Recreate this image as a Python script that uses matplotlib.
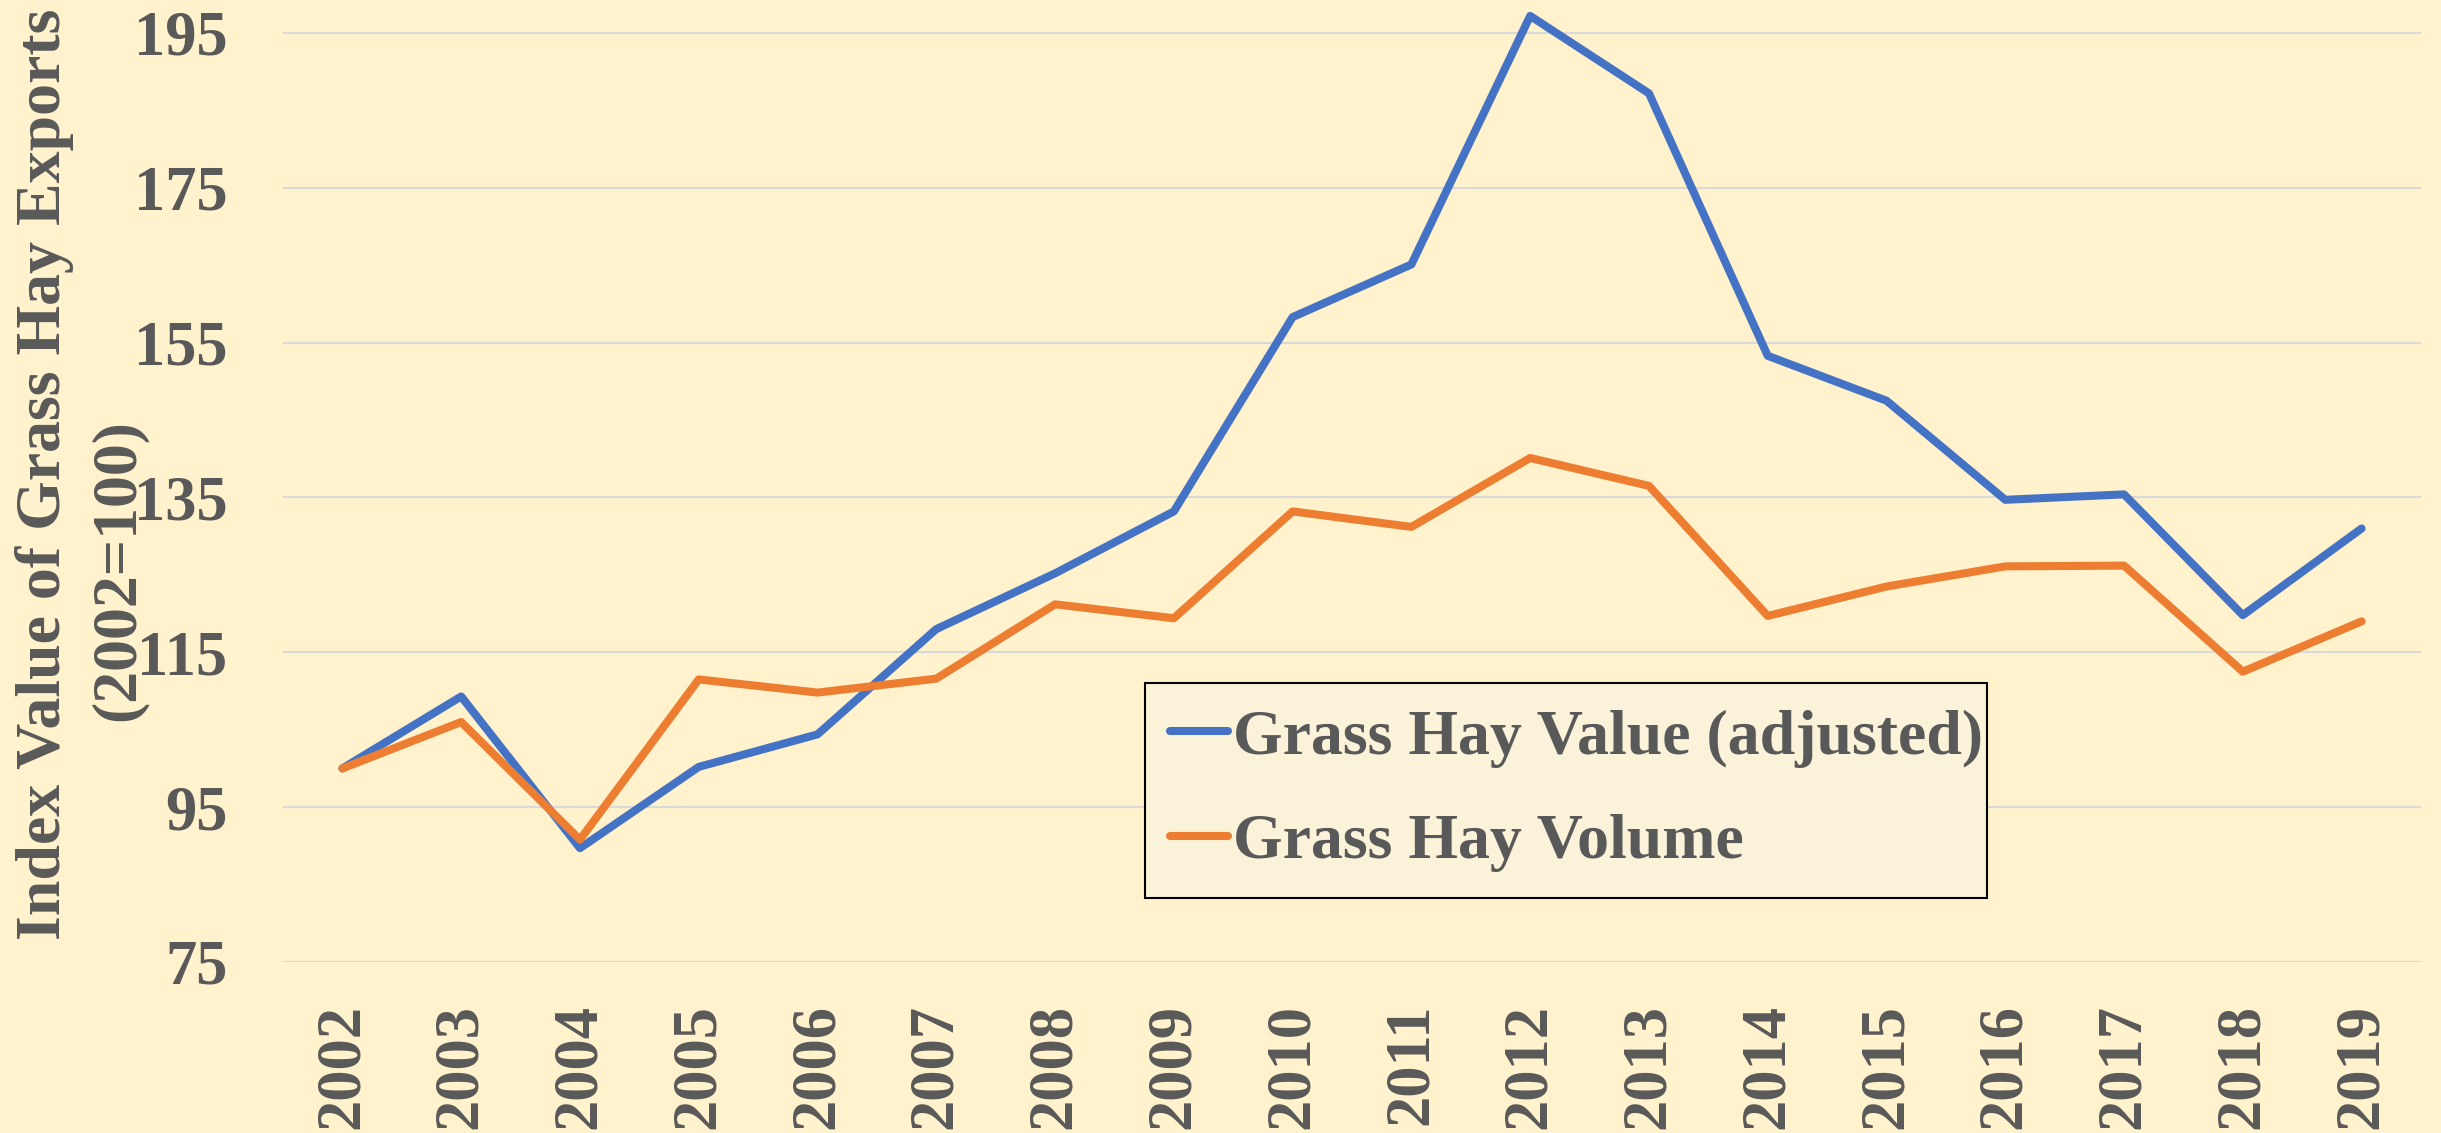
import matplotlib.pyplot as plt
import numpy as np

# data (index, 2002=100)
years = ['2002', '2003', '2004', '2005', '2006', '2007', '2008', '2009', '2010',
         '2011', '2012', '2013', '2014', '2015', '2016', '2017', '2018', '2019']
value_adj = [100.0, 109.3, 89.7, 100.2, 104.4, 118.0, 125.2, 133.2, 158.3,
             165.1, 197.2, 187.2, 153.3, 147.5, 134.7, 135.4, 119.8, 131.0]
volume = [100.0, 106.0, 90.8, 111.5, 109.8, 111.6, 121.2, 119.4, 133.2,
          131.2, 140.1, 136.5, 119.7, 123.5, 126.1, 126.2, 112.5, 119.0]
yticks = [75, 95, 115, 135, 155, 175, 195]

bg = '#FFF2CC'
txt = '#595959'
plt.rcParams['font.family'] = ['Liberation Serif', 'DejaVu Serif']
plt.rcParams['font.weight'] = 'bold'

fig = plt.figure(figsize=(24.41, 11.33), dpi=100, facecolor=bg)
ax = fig.add_axes([283 / 2441, 1 - 962 / 1133, 2138 / 2441, 962 / 1133])
ax.set_facecolor(bg)

x = np.arange(len(years))
ax.plot(x, value_adj, color='#4472C4', lw=5.8, label='Grass Hay Value (adjusted)',
        solid_joinstyle='round', solid_capstyle='round', zorder=3)
ax.plot(x, volume, color='#ED7D31', lw=5.8, label='Grass Hay Volume',
        solid_joinstyle='round', solid_capstyle='round', zorder=3)

ax.set_xlim(-0.5, len(years) - 0.5)
ax.set_ylim(75, 75 + 962 / 7.742)
ax.set_yticks(yticks)
ax.set_xticks(x)
ax.set_xticklabels(years, rotation=90)
for s in ax.spines.values():
    s.set_visible(False)
ax.grid(axis='y', color='#D9D9D9', lw=1.5, zorder=0)
ax.tick_params(axis='y', length=0, pad=40, labelsize=45, labelcolor=txt)
ax.tick_params(axis='x', length=0, pad=30, labelsize=45, labelcolor=txt)

# axis title in two lines
fig.text(0.0182, 0.581, 'Index Value of Grass Hay Exports', rotation=90,
         ha='center', va='center', fontsize=46, color=txt, fontweight='bold')
fig.text(0.0485, 0.497, '(2002=100)', rotation=90,
         ha='center', va='center', fontsize=46, color=txt, fontweight='bold')

leg = ax.legend(loc='lower left', bbox_to_anchor=(0.403, 0.0665, 0.394, 0.2235),
                mode='expand', fontsize=46, frameon=True, fancybox=False,
                handlelength=0.9, handletextpad=0.08, labelspacing=0.72,
                borderpad=0.4, borderaxespad=0)
leg.get_frame().set_facecolor('#FBF3D9')
leg.get_frame().set_edgecolor('black')
leg.get_frame().set_linewidth(1.5)
leg.get_frame().set_alpha(1)
for t in leg.get_texts():
    t.set_color(txt)

fig.savefig('out.png', dpi=100, facecolor=bg)
